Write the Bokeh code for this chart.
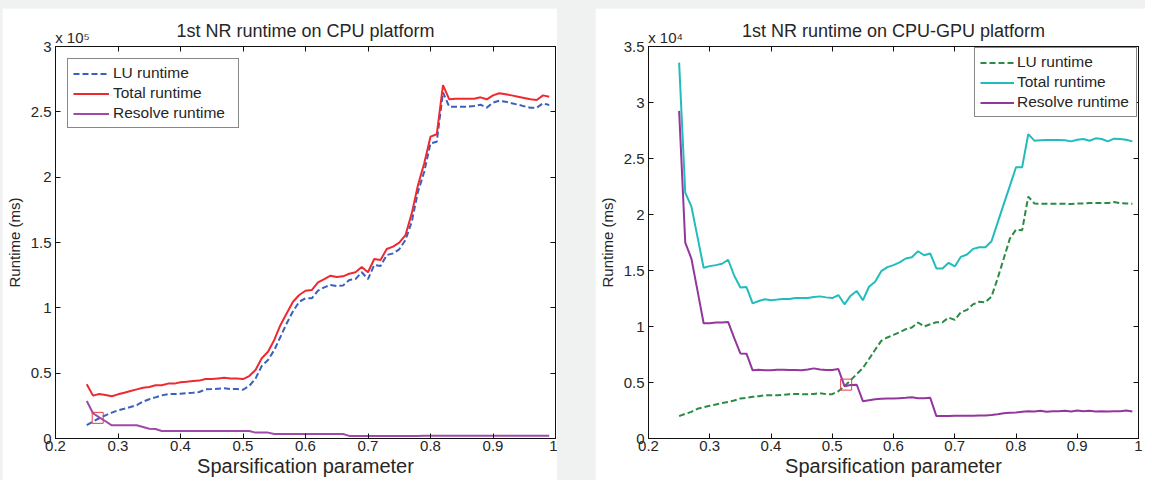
from bokeh.plotting import figure
from bokeh.layouts import row, column
from bokeh.models import Range1d, FixedTicker, CustomJSTickFormatter, LinearAxis, Spacer
from bokeh.embed import file_html
from bokeh.resources import INLINE

# ---------------- data ----------------
sparsification = [0.25, 0.26, 0.27, 0.28, 0.29, 0.30, 0.31, 0.32, 0.33, 0.34,
                  0.35, 0.36, 0.37, 0.38, 0.39, 0.40, 0.41, 0.42, 0.43, 0.44,
                  0.45, 0.46, 0.47, 0.48, 0.49, 0.50, 0.51, 0.52, 0.53, 0.54,
                  0.55, 0.56, 0.57, 0.58, 0.59, 0.60, 0.61, 0.62, 0.63, 0.64,
                  0.65, 0.66, 0.67, 0.68, 0.69, 0.70, 0.71, 0.72, 0.73, 0.74,
                  0.75, 0.76, 0.77, 0.78, 0.79, 0.80, 0.81, 0.82, 0.83, 0.84,
                  0.85, 0.86, 0.87, 0.88, 0.89, 0.90, 0.91, 0.92, 0.93, 0.94,
                  0.95, 0.96, 0.97, 0.98, 0.99]

cpu_lu = [10300, 12900, 15500, 17700, 19800, 21600, 22800, 24100, 25600, 28200,
          30000, 31500, 33000, 34000, 34000, 34300, 34800, 35000, 35600, 37600,
          37800, 38100, 38400, 37800, 37800, 37300, 40200, 45800, 55500, 60100,
          67700, 77900, 88200, 97400, 104700, 107300, 107300, 113100, 115700, 117500,
          116700, 117000, 121300, 122000, 127200, 122000, 132800, 132000, 140400, 141700,
          144800, 151900, 165900, 188900, 204200, 225900, 227100, 264900, 253900, 253900,
          253900, 253900, 254500, 255500, 253200, 257000, 258500, 257800, 256500, 255500,
          254200, 253200, 253200, 256500, 255200]

cpu_total = [41500, 32800, 34000, 33300, 32300, 33800, 35000, 36300, 37600, 38900,
             39400, 40700, 40700, 42000, 42000, 43000, 43500, 44000, 44300, 45500,
             45500, 46000, 46500, 46000, 46000, 45500, 47800, 52400, 61400, 66400,
             75400, 86900, 95800, 104700, 109800, 113100, 113600, 119500, 122000, 124600,
             123600, 124100, 126100, 127200, 131200, 127200, 137400, 136600, 145000, 146800,
             149900, 155700, 172300, 194000, 210600, 231000, 232800, 270500, 259600, 260000,
             260000, 260000, 260000, 261100, 259600, 262600, 264200, 263400, 262600, 261600,
             260600, 259600, 259000, 262600, 261600]

cpu_resolve = [28700, 19300, 16200, 13200, 10100, 10100, 10100, 10100, 10100, 8800,
               7500, 7300, 5700, 5700, 5700, 5700, 5700, 5700, 5700, 5700,
               5700, 5700, 5700, 5700, 5700, 5700, 5700, 4500, 4500, 4500,
               3500, 3500, 3500, 3500, 3500, 3500, 3500, 3500, 3500, 3500,
               3500, 3500, 2000, 2000, 2000, 2000, 2000, 2000, 2000, 2000,
               2000, 2000, 2000, 2000, 2100, 2100, 2100, 2100, 2100, 2100,
               2100, 2100, 2100, 2100, 2100, 2100, 2100, 2100, 2100, 2100,
               2100, 2100, 2100, 2100, 2100]

gpu_lu = [2000, 2200, 2380, 2650, 2800, 2920, 3030, 3160, 3270, 3390,
          3570, 3630, 3720, 3780, 3870, 3870, 3870, 3890, 3960, 3980,
          3960, 3960, 3980, 4040, 3960, 3960, 4220, 4670, 5200, 5760,
          6290, 7100, 7920, 8720, 9020, 9250, 9490, 9760, 9910, 10360,
          10000, 10200, 10380, 10380, 10800, 10590, 11270, 11480, 11980, 12220,
          12160, 12670, 14290, 16070, 17850, 18650, 18590, 21600, 20990, 20960,
          20960, 20960, 20960, 20960, 20930, 20990, 20990, 21020, 21020, 21020,
          21020, 21110, 21020, 20990, 20960]

gpu_total = [33560, 21940, 20720, 18000, 15240, 15390, 15480, 15600, 15960, 14530,
             13490, 13520, 12070, 12280, 12430, 12340, 12400, 12450, 12450, 12540,
             12540, 12540, 12630, 12690, 12600, 12540, 12810, 11980, 12750, 13170,
             12340, 13550, 14000, 14940, 15300, 15480, 15720, 16070, 16190, 16720,
             16360, 16520, 15180, 15180, 15690, 15360, 16220, 16430, 16930, 17080,
             17080, 17610, 19270, 20930, 22560, 24220, 24220, 27180, 26590, 26620,
             26650, 26650, 26650, 26620, 26530, 26680, 26740, 26590, 26800, 26740,
             26530, 26770, 26740, 26680, 26530]

gpu_resolve = [29250, 17490, 16070, 13200, 10290, 10290, 10350, 10350, 10410, 8960,
               7600, 7570, 6090, 6140, 6090, 6090, 6140, 6140, 6120, 6120,
               6090, 6170, 6260, 6170, 6120, 6120, 6200, 4670, 4780, 4800,
               3330, 3420, 3510, 3540, 3570, 3570, 3600, 3630, 3690, 3600,
               3600, 3630, 2000, 2000, 2010, 2030, 2030, 2030, 2030, 2060,
               2060, 2090, 2170, 2260, 2290, 2320, 2380, 2440, 2410, 2470,
               2380, 2440, 2440, 2470, 2410, 2500, 2440, 2470, 2410, 2440,
               2410, 2440, 2440, 2500, 2410]

# crossing-point markers (small red squares)
cpu_cross_x = [0.2675]
cpu_cross_y = [15800]
gpu_cross_x = [0.5227]
gpu_cross_y = [4810]

x_ticks = [0.2, 0.3, 0.4, 0.5, 0.6, 0.7, 0.8, 0.9, 1.0]
cpu_y_ticks = [0, 50000, 100000, 150000, 200000, 250000, 300000]
gpu_y_ticks = [0, 5000, 10000, 15000, 20000, 25000, 30000, 35000]

series_labels = ["LU runtime", "Total runtime", "Resolve runtime"]
cpu_title = "1st NR runtime on CPU platform"
gpu_title = "1st NR runtime on CPU-GPU platform"
cpu_multiplier = "x 10\u2075"
gpu_multiplier = "x 10\u2074"

# ---------------- styling ----------------
FONT = "Liberation Sans"
TXT = "#262626"
BG = "#f0f2f1"
FRAME_H = 392


def style_axis(ax, ticks, code, show_labels=True):
    ax.ticker = FixedTicker(ticks=ticks)
    ax.major_tick_in = 5
    ax.major_tick_out = 0
    ax.minor_tick_line_color = None
    ax.axis_line_color = "#111111"
    ax.major_tick_line_color = "#111111"
    ax.major_label_text_font = FONT
    ax.axis_label_text_font = FONT
    ax.axis_label_text_color = TXT
    ax.axis_label_text_font_style = "normal"
    if show_labels:
        ax.formatter = CustomJSTickFormatter(code=code)
        ax.major_label_text_color = TXT
        ax.major_label_text_font_size = "15px"
    else:
        ax.formatter = CustomJSTickFormatter(code="return '';")
        ax.major_label_text_color = None
        ax.major_label_standoff = 0


def make_panel(title, ymax, yticks, ycode, mult_text, mult_pos, lu, total, resolve,
               colors, cross_x, cross_y, frame_w, border_l, border_r, legend_loc,
               legend_margin, glyph_w, label_w, label_standoff):
    p = figure(frame_width=frame_w, frame_height=FRAME_H,
               min_border_left=border_l, min_border_right=border_r,
               min_border_top=38, min_border_bottom=42,
               x_range=Range1d(0.2, 1.0), y_range=Range1d(0, ymax),
               output_backend="svg", toolbar_location=None)
    p.xgrid.visible = False
    p.ygrid.visible = False
    p.background_fill_color = "white"
    p.border_fill_color = "white"
    p.outline_line_color = "#111111"
    p.outline_line_width = 1

    xcode = "return (Math.round(tick * 10) / 10).toString();"
    style_axis(p.xaxis[0], x_ticks, xcode)
    p.xaxis[0].major_label_standoff = 2
    p.xaxis[0].axis_label = "Sparsification parameter"
    p.xaxis[0].axis_label_text_font_size = "20px"
    p.xaxis[0].axis_label_standoff = 1

    style_axis(p.yaxis[0], yticks, ycode)
    p.yaxis[0].major_label_standoff = 4
    p.yaxis[0].axis_label = "Runtime (ms)"
    p.yaxis[0].axis_label_text_font_size = "15px"
    p.yaxis[0].axis_label_standoff = 5

    # top and right axes: inward tick marks only (MATLAB box)
    top_ax = LinearAxis()
    style_axis(top_ax, x_ticks, xcode, show_labels=False)
    p.add_layout(top_ax, "above")
    right_ax = LinearAxis()
    style_axis(right_ax, yticks, ycode, show_labels=False)
    p.add_layout(right_ax, "right")

    # header row: exponent multiplier ("x 10^n") at the top-left corner and the
    # plot title centred above the frame, on overlapping lines as in MATLAB
    head_ax = LinearAxis(ticker=FixedTicker(ticks=[mult_pos]),
                         formatter=CustomJSTickFormatter(code="return '%s';" % mult_text))
    head_ax.axis_line_color = None
    head_ax.major_tick_line_color = None
    head_ax.minor_tick_line_color = None
    head_ax.major_tick_in = 0
    head_ax.major_tick_out = 0
    head_ax.major_label_standoff = 1
    head_ax.major_label_text_font = FONT
    head_ax.major_label_text_font_size = "15px"
    head_ax.major_label_text_color = TXT
    head_ax.axis_label = title
    head_ax.axis_label_text_font = FONT
    head_ax.axis_label_text_font_size = "18px"
    head_ax.axis_label_text_font_style = "normal"
    head_ax.axis_label_text_color = TXT
    head_ax.axis_label_standoff = -15
    p.add_layout(head_ax, "above")

    c_lu, c_total, c_res = colors
    p.line(sparsification, lu, line_color=c_lu, line_width=2, line_dash="6 3",
           legend_label=series_labels[0])
    p.line(sparsification, total, line_color=c_total, line_width=2,
           legend_label=series_labels[1])
    p.line(sparsification, resolve, line_color=c_res, line_width=2,
           legend_label=series_labels[2])

    p.scatter(cross_x, cross_y, marker="square", size=11, fill_color=None,
              line_color="#ea3a3e", line_width=1)

    lg = p.legend[0]
    lg.location = legend_loc
    lg.margin = legend_margin
    lg.border_line_color = "#111111"
    lg.border_line_width = 1
    lg.background_fill_color = "white"
    lg.background_fill_alpha = 1
    lg.label_text_font = FONT
    lg.label_text_font_size = "15.5px"
    lg.label_text_color = TXT
    lg.glyph_width = glyph_w
    lg.glyph_height = 17
    lg.label_height = 17
    lg.label_width = label_w
    lg.label_standoff = label_standoff
    lg.spacing = 2
    lg.padding = 5
    return p


p1 = make_panel(cpu_title, 300000, cpu_y_ticks,
                "return (Math.round(tick / 10000) / 10).toString();",
                cpu_multiplier, 0.2272,
                cpu_lu, cpu_total, cpu_resolve,
                ("#3a5fbe", "#ee2a30", "#9e4aa6"),
                cpu_cross_x, cpu_cross_y, 500, 49, 2, "top_left", 12, 36, 120, 4)

p2 = make_panel(gpu_title, 35000, gpu_y_ticks,
                "return (Math.round(tick / 1000) / 10).toString();",
                gpu_multiplier, 0.2278,
                gpu_lu, gpu_total, gpu_resolve,
                ("#2b8a43", "#22bcbd", "#93379d"),
                gpu_cross_x, gpu_cross_y, 490, 48, 7, "top_right", 1, 34, 114, 3)

layout = column(
    Spacer(width=1136, height=8),
    row(Spacer(width=2, height=10), p1, Spacer(width=38, height=10), p2),
    styles={"background-color": BG},
)

open("out.html", "w", encoding="utf-8").write(file_html(layout, INLINE))
